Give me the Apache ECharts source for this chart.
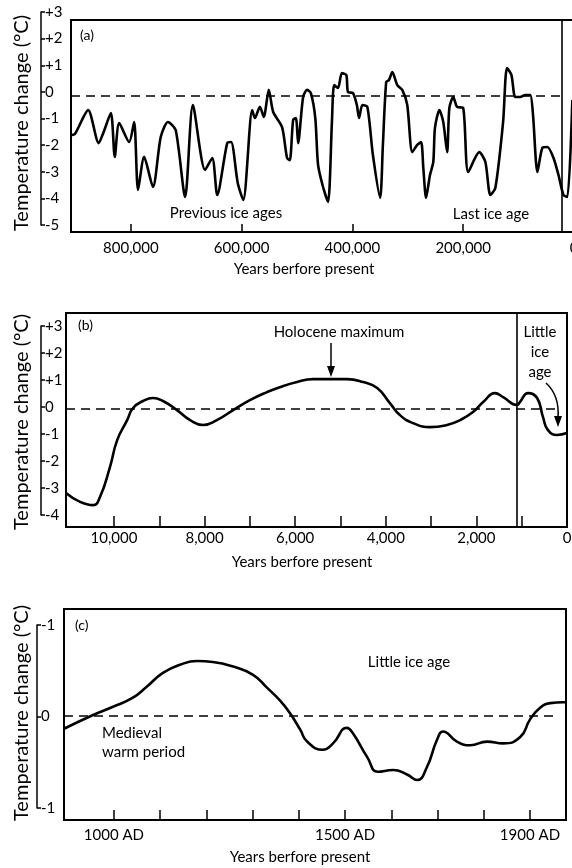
<!DOCTYPE html>
<html><head><meta charset="utf-8">
<script src="https://cdn.jsdelivr.net/npm/echarts@6/dist/echarts.min.js"></script>
<style>html,body{margin:0;padding:0;background:#fff}#c{width:572px;height:868px}</style>
</head><body><div id="c"></div>
<script>
// ---- Panel (a): last ~900,000 years ----
const aYears = [908000, 901000, 877000, 858000, 849000, 836000, 829000, 821000, 803000, 794000, 787000, 776000, 760000, 746000, 733000, 719000, 702000, 688000, 666000, 653000, 644000, 626000, 619000, 607000, 597000, 581000, 576000, 567000, 560000, 551000, 543000, 527000, 518000, 513000, 507000, 502000, 498000, 489000, 482000, 475000, 467000, 462000, 453000, 444000, 437000, 433000, 426000, 419000, 411000, 408000, 399000, 392000, 388000, 382000, 373000, 363000, 350000, 345000, 339000, 334000, 328000, 319000, 310000, 301000, 292000, 283000, 276000, 272000, 267000, 260000, 254000, 251000, 243000, 236000, 229000, 225000, 218000, 211000, 200000, 191000, 171000, 160000, 151000, 142000, 128000, 121000, 113000, 106000, 97000, 88000, 79000, 74000, 66000, 57000, 48000, 37000, 28000, 19000, 12000, 3000];
const aTemps = [-1.47, -1.43, -0.53, -1.77, -1.35, -0.64, -2.29, -1.02, -1.73, -0.98, -3.53, -2.29, -3.42, -1.54, -0.98, -1.28, -3.8, -0.34, -2.78, -2.33, -3.72, -1.77, -1.73, -3.27, -3.91, -0.53, -0.83, -0.41, -0.79, 0.23, -0.6, -1.17, -2.33, -2.41, -0.9, -0.83, -1.77, -0.04, 0.23, 0.11, -0.83, -2.59, -3.42, -3.98, -0.98, 0.41, 0.3, 0.86, 0.79, 0.15, 0.11, -0.34, -0.83, -0.34, -0.41, -2.22, -3.83, -1.84, 0.53, 0.6, 0.9, 0.41, 0.23, -0.34, -2.11, -1.84, -1.73, -2.71, -3.83, -2.97, -2.48, -1.2, -0.53, -0.98, -2.11, -0.45, -0.04, -0.41, -0.45, -2.86, -2.11, -2.48, -3.72, -3.46, -0.98, 1.05, 0.79, -0.04, -0.04, 0.04, 0.04, -0.71, -2.86, -1.95, -1.92, -2.33, -2.97, -3.72, -3.8, -0.15];
const aTickVals = [800000, 600000, 400000, 200000, 0];
const aTempTicks = [3, 2, 1, 0, -1, -2, -3, -4, -5];
const aDivider = 23000;

// ---- Panel (b): Holocene ----
const bYears = [11060, 10750, 10460, 10310, 10090, 9930, 9710, 9580, 9360, 9140, 8920, 8610, 8320, 8035, 7730, 7370, 7000, 6620, 6340, 5960, 5610, 5230, 4860, 4500, 4190, 3910, 3690, 3400, 3020, 2650, 2360, 2075, 1850, 1590, 1410, 1100, 1040, 860, 660, 530, 420, 220, 0];
const bTemps = [-3.11, -3.44, -3.56, -3.26, -2.15, -1.15, -0.41, 0.04, 0.3, 0.41, 0.3, -0.04, -0.41, -0.59, -0.41, -0.04, 0.33, 0.63, 0.81, 1.0, 1.11, 1.11, 1.11, 1.0, 0.78, 0.22, -0.22, -0.52, -0.67, -0.59, -0.41, -0.11, 0.26, 0.59, 0.44, 0.15, 0.26, 0.59, 0.41, -0.3, -0.78, -0.96, -0.89];
const bTickVals = [10000, 9000, 8000, 7000, 6000, 5000, 4000, 3000, 2000, 1000, 0];
const bLabelVals = [10000, 8000, 6000, 4000, 2000, 0];
const bDivider = 1100;

// ---- Panel (c): last millennium ----
const cYears = [892, 955, 998, 1041, 1071, 1106, 1143, 1180, 1214, 1258, 1301, 1331, 1359, 1381, 1403, 1418, 1452, 1474, 1504, 1517, 1548, 1571, 1604, 1634, 1656, 1677, 1699, 1712, 1742, 1771, 1807, 1842, 1879, 1900, 1922, 1944, 1972, 1978];
const cTemps = [-0.14, 0.01, 0.1, 0.2, 0.32, 0.47, 0.56, 0.6, 0.59, 0.54, 0.45, 0.31, 0.17, 0.03, -0.15, -0.28, -0.37, -0.3, -0.13, -0.19, -0.45, -0.61, -0.59, -0.64, -0.7, -0.56, -0.26, -0.17, -0.28, -0.32, -0.28, -0.3, -0.23, -0.04, 0.09, 0.14, 0.15, 0.15];
const cTickVals = [1000, 1100, 1200, 1300, 1400, 1500, 1600, 1700, 1800, 1900];
const cLabelVals = [1000, 1500, 1900];

const FONT = 'Lato';
const comma = v => String(v).replace(/\B(?=(\d{3})+(?!\d))/g, ',');
const signed = v => v > 0 ? '+' + v : String(v);

const chart = echarts.init(document.getElementById('c'), null, {renderer: 'canvas'});

function zip(xs, ys) { return xs.map((x, i) => [x, ys[i]]); }

const dash = {color: '#000', width: 1.6, type: [9, 6]};
const solid = {color: '#000', width: 1.6, type: 'solid'};

function dataX(grid, min, max, ticks, labels, fmt, margin, tickLen) {
  return {
    gridIndex: grid, type: 'value', min: min, max: max, inverse: grid !== 4,
    axisLine: {show: true, onZero: false, lineStyle: {color: '#000', width: 2}},
    axisTick: {show: true, inside: true, length: tickLen, customValues: ticks, lineStyle: {color: '#000', width: 1.5}},
    axisLabel: {show: true, customValues: labels, formatter: fmt, margin: margin, color: '#000', fontFamily: FONT, fontSize: 15, hideOverlap: false},
    splitLine: {show: false}
  };
}
function bracketY(grid, min, max, fmt) {
  return {
    gridIndex: grid, type: 'value', min: min, max: max, interval: 1, position: 'right',
    axisLine: {show: true, lineStyle: {color: '#000', width: 1.5}},
    axisTick: {show: true, inside: false, length: 4, lineStyle: {color: '#000', width: 1.5}},
    axisLabel: {show: true, margin: 2, formatter: fmt, color: '#000', fontFamily: FONT, fontSize: 15},
    splitLine: {show: false}
  };
}
function hiddenY(grid, min, max) {
  return {gridIndex: grid, type: 'value', min: min, max: max, show: false, splitLine: {show: false}};
}
function hiddenX(grid) {
  return {gridIndex: grid, type: 'value', min: 0, max: 1, show: false, splitLine: {show: false}};
}
function curve(xi, yi, data, smooth, marks) {
  return {
    type: 'line', xAxisIndex: xi, yAxisIndex: yi, data: data, smooth: smooth,
    showSymbol: false, symbol: 'none', silent: true, animation: false,
    lineStyle: {color: '#000', width: 2.6},
    markLine: {silent: true, symbol: ['none', 'none'], label: {show: false}, animation: false, data: marks}
  };
}

function txt(x, y, s, opts) {
  return Object.assign({type: 'text', x: x, y: y, silent: true,
    style: Object.assign({text: s, fill: '#000', font: '15px ' + FONT, textAlign: 'left', textVerticalAlign: 'middle'}, opts || {})});
}
function ytitle(y) {
  return {type: 'text', x: 22, y: y, rotation: Math.PI / 2, silent: true,
    style: {text: 'Temperature change (°C)', fill: '#000', font: '20px ' + FONT, textAlign: 'center', textVerticalAlign: 'middle'}};
}
function grid(l, t, w, h, boxed) {
  const g = {left: l, top: t, width: w, height: h, containLabel: false, outerBoundsMode: 'none'};
  if (boxed) { g.show = true; g.borderColor = '#000'; g.borderWidth = 2; }
  return g;
}

const option = {
  backgroundColor: '#fff',
  animation: false,
  grid: [
    grid(71, 20, 503, 212, true),
    grid(41, 12, 2, 213, false),
    grid(66, 313, 501, 214, true),
    grid(41, 326, 2, 189, false),
    grid(64, 609, 502, 211, true),
    grid(37, 625, 2, 183, false)
  ],
  xAxis: [
    dataX(0, 0, 908000, aTickVals, aTickVals, comma, 9, 8),
    hiddenX(1),
    dataX(2, 0, 11060, bTickVals, bLabelVals, comma, 4, 11),
    hiddenX(3),
    dataX(4, 892, 1978, cTickVals, cLabelVals, v => v + ' AD', 8, 10),
    hiddenX(5)
  ],
  yAxis: [
    hiddenY(0, -5.113, 2.857),
    bracketY(1, -5, 3, signed),
    hiddenY(2, -4.37, 3.56),
    bracketY(3, -4, 3, signed),
    hiddenY(4, -1.137, 1.169),
    bracketY(5, -1, 1, v => v === 0 ? '0' : '-1')
  ],
  series: [
    curve(0, 0, zip(aYears, aTemps), 0.25, [
      [{coord: [908000, 0], lineStyle: dash}, {coord: [aDivider, 0]}],
      {xAxis: aDivider, lineStyle: solid}
    ]),
    curve(2, 2, zip(bYears, bTemps), 0.5, [
      [{coord: [11060, 0], lineStyle: dash}, {coord: [200, 0]}],
      {xAxis: bDivider, lineStyle: solid}
    ]),
    curve(4, 4, zip(cYears, cTemps), 0.5, [
      [{coord: [892, 0], lineStyle: dash}, {coord: [1959, 0]}]
    ])
  ],
  graphic: [
    ytitle(123), ytitle(422), ytitle(713),
    txt(80, 35, '(a)', {font: '14px ' + FONT}),
    txt(226, 213, 'Previous ice ages', {textAlign: 'center'}),
    txt(491, 214, 'Last ice age', {textAlign: 'center'}),
    txt(304, 269, 'Years berfore present', {textAlign: 'center'}),
    txt(78, 325, '(b)', {font: '14px ' + FONT}),
    txt(339, 332, 'Holocene maximum', {textAlign: 'center'}),
    {type: 'line', silent: true, shape: {x1: 331, y1: 343, x2: 331, y2: 368}, style: {stroke: '#000', lineWidth: 1.5}},
    {type: 'polygon', silent: true, shape: {points: [[327, 366], [335, 366], [331, 377]]}, style: {fill: '#000'}},
    txt(540, 332, 'Little', {textAlign: 'center'}),
    txt(540, 352, 'ice', {textAlign: 'center'}),
    txt(540, 372, 'age', {textAlign: 'center'}),
    {type: 'bezierCurve', silent: true, shape: {x1: 546, y1: 383, cpx1: 556, cpy1: 392, cpx2: 559, cpy2: 405, x2: 558, y2: 418}, style: {stroke: '#000', lineWidth: 1.5, fill: null}},
    {type: 'polygon', silent: true, shape: {points: [[554, 416], [562, 416], [558, 427]]}, style: {fill: '#000'}},
    txt(302, 562, 'Years berfore present', {textAlign: 'center'}),
    txt(75, 625, '(c)', {font: '14px ' + FONT}),
    txt(102, 733, 'Medieval'),
    txt(102, 752, 'warm period'),
    txt(409, 662, 'Little ice age', {textAlign: 'center'}),
    txt(300, 857, 'Years berfore present', {textAlign: 'center'})
  ]
};
chart.setOption(option);
</script>
</body></html>
